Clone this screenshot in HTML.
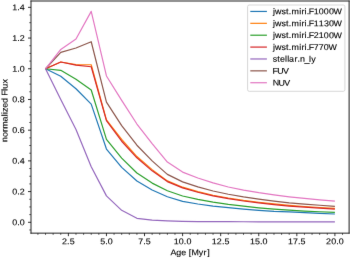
<!DOCTYPE html>
<html><head><meta charset="utf-8"><style>
html,body{margin:0;padding:0;background:#fff;width:350px;height:258px;overflow:hidden}
svg{display:block}
text{font-family:"Liberation Sans", sans-serif}
</style></head><body>
<svg width="350" height="258" viewBox="0 0 350 258" font-family="Liberation Sans, sans-serif"><defs><filter id="b" x="0" y="0" width="100%" height="100%" filterUnits="userSpaceOnUse" color-interpolation-filters="sRGB"><feConvolveMatrix order="3" kernelMatrix="0.0036 0.0528 0.0036 0.0528 0.7744 0.0528 0.0036 0.0528 0.0036" divisor="1" edgeMode="duplicate"/></filter></defs><g filter="url(#b)"><polyline points="45.53,68.76 60.76,76.28 75.99,88.72 91.22,104.07 106.45,149.06 121.68,167.33 136.91,181.03 152.14,189.93 167.37,196.80 182.60,201.40 197.83,204.01 213.06,206.04 228.29,207.71 243.52,209.13 258.75,210.31 273.98,211.34 289.21,211.97 304.44,212.72 319.67,213.39 334.90,213.99" fill="none" stroke="#1f77b4" stroke-width="1.2" stroke-linejoin="round" stroke-linecap="butt"/>
<polyline points="45.53,68.76 60.76,62.00 75.99,64.61 91.22,64.77 106.45,119.89 121.68,139.39 136.91,156.58 152.14,169.64 167.37,180.92 182.60,187.20 197.83,191.56 213.06,195.22 228.29,197.98 243.52,200.30 258.75,202.25 273.98,203.94 289.21,205.38 304.44,206.49 319.67,207.50 334.90,208.36" fill="none" stroke="#ff7f0e" stroke-width="1.2" stroke-linejoin="round" stroke-linecap="butt"/>
<polyline points="45.53,68.76 60.76,70.30 75.99,79.35 91.22,89.95 106.45,139.39 121.68,158.12 136.91,173.01 152.14,183.09 167.37,190.72 182.60,196.03 197.83,199.44 213.06,202.19 228.29,204.40 243.52,206.22 258.75,207.78 273.98,209.08 289.21,210.22 304.44,211.05 319.67,211.77 334.90,212.41" fill="none" stroke="#2ca02c" stroke-width="1.2" stroke-linejoin="round" stroke-linecap="butt"/>
<polyline points="45.53,68.76 60.76,62.00 75.99,65.08 91.22,66.76 106.45,120.66 121.68,141.23 136.91,157.81 152.14,170.86 167.37,181.61 182.60,187.89 197.83,192.25 213.06,195.91 228.29,198.67 243.52,200.99 258.75,202.94 273.98,204.63 289.21,206.07 304.44,207.18 319.67,208.19 334.90,209.05" fill="none" stroke="#d62728" stroke-width="1.2" stroke-linejoin="round" stroke-linecap="butt"/>
<polyline points="45.53,68.76 60.76,99.47 75.99,129.41 91.22,166.72 106.45,195.89 121.68,210.32 136.91,218.31 152.14,220.15 167.37,220.92 182.60,221.38 197.83,221.53 213.06,221.61 228.29,221.69 243.52,221.76 258.75,221.84 273.98,221.84 289.21,221.84 304.44,221.84 319.67,221.84 334.90,221.84" fill="none" stroke="#9467bd" stroke-width="1.2" stroke-linejoin="round" stroke-linecap="butt"/>
<polyline points="45.53,68.76 60.76,52.33 75.99,48.03 91.22,41.74 106.45,102.08 121.68,125.57 136.91,145.22 152.14,160.88 167.37,174.40 182.60,181.86 197.83,186.82 213.06,190.98 228.29,194.26 243.52,196.94 258.75,199.19 273.98,201.13 289.21,202.82 304.44,204.12 319.67,205.27 334.90,206.32" fill="none" stroke="#8c564b" stroke-width="1.2" stroke-linejoin="round" stroke-linecap="butt"/>
<polyline points="45.53,68.76 60.76,49.41 75.99,38.97 91.22,11.34 106.45,75.98 121.68,100.39 136.91,124.03 152.14,143.53 167.37,162.11 182.60,172.09 197.83,178.00 213.06,182.89 228.29,186.99 243.52,190.18 258.75,192.71 273.98,194.86 289.21,196.80 304.44,198.44 319.67,199.87 334.90,201.17" fill="none" stroke="#e377c2" stroke-width="1.2" stroke-linejoin="round" stroke-linecap="butt"/>
<path d="M31.0 233.65V0.50M349.1 233.65V0.50M30.50 1.0H349.60M30.50 233.15H349.60" fill="none" stroke="#222" stroke-width="1.0"/>
<path d="M31.0 222.30h-3.0 M31.0 191.59h-3.0 M31.0 160.88h-3.0 M31.0 130.18h-3.0 M31.0 99.47h-3.0 M31.0 68.76h-3.0 M31.0 38.05h-3.0 M31.0 7.34h-3.0 M68.38 233.15v3.0 M106.45 233.15v3.0 M144.53 233.15v3.0 M182.60 233.15v3.0 M220.68 233.15v3.0 M258.75 233.15v3.0 M296.83 233.15v3.0 M334.90 233.15v3.0" stroke="#000" stroke-width="0.8" fill="none"/>
<path d="M31.0 229.98h-1.8 M31.0 214.62h-1.8 M31.0 206.95h-1.8 M31.0 199.27h-1.8 M31.0 183.92h-1.8 M31.0 176.24h-1.8 M31.0 168.56h-1.8 M31.0 153.21h-1.8 M31.0 145.53h-1.8 M31.0 137.85h-1.8 M31.0 122.50h-1.8 M31.0 114.82h-1.8 M31.0 107.15h-1.8 M31.0 91.79h-1.8 M31.0 84.11h-1.8 M31.0 76.44h-1.8 M31.0 61.08h-1.8 M31.0 53.41h-1.8 M31.0 45.73h-1.8 M31.0 30.38h-1.8 M31.0 22.70h-1.8 M31.0 15.02h-1.8 M37.91 233.15v1.8 M45.53 233.15v1.8 M53.14 233.15v1.8 M60.76 233.15v1.8 M75.99 233.15v1.8 M83.61 233.15v1.8 M91.22 233.15v1.8 M98.83 233.15v1.8 M114.06 233.15v1.8 M121.68 233.15v1.8 M129.30 233.15v1.8 M136.91 233.15v1.8 M152.14 233.15v1.8 M159.76 233.15v1.8 M167.37 233.15v1.8 M174.99 233.15v1.8 M190.22 233.15v1.8 M197.83 233.15v1.8 M205.45 233.15v1.8 M213.06 233.15v1.8 M228.29 233.15v1.8 M235.91 233.15v1.8 M243.52 233.15v1.8 M251.14 233.15v1.8 M266.37 233.15v1.8 M273.98 233.15v1.8 M281.60 233.15v1.8 M289.21 233.15v1.8 M304.44 233.15v1.8 M312.06 233.15v1.8 M319.67 233.15v1.8 M327.29 233.15v1.8 M342.52 233.15v1.8" stroke="#000" stroke-width="0.6" fill="none"/>
<g font-size="8.4" fill="#000" stroke="#000" stroke-width="0.12">
<text transform="matrix(1.06 0.001 0 1 0 -0.0155)" x="11.58 16.31 18.71" y="225.20">0.0</text>
<text transform="matrix(1.06 0.001 0 1 0 -0.0155)" x="11.58 16.31 18.61" y="194.49">0.2</text>
<text transform="matrix(1.06 0.001 0 1 0 -0.0155)" x="11.58 16.31 18.71" y="163.78">0.4</text>
<text transform="matrix(1.06 0.001 0 1 0 -0.0155)" x="11.58 16.31 18.71" y="133.08">0.6</text>
<text transform="matrix(1.06 0.001 0 1 0 -0.0155)" x="11.58 16.31 18.71" y="102.37">0.8</text>
<text transform="matrix(1.06 0.001 0 1 0 -0.0155)" x="11.54 16.31 18.71" y="71.66">1.0</text>
<text transform="matrix(1.06 0.001 0 1 0 -0.0155)" x="11.54 16.31 18.61" y="40.95">1.2</text>
<text transform="matrix(1.06 0.001 0 1 0 -0.0155)" x="11.54 16.31 18.71" y="10.24">1.4</text>
<text transform="matrix(1.06 0.001 0 1 0 -0.0625)" x="58.51 63.33 65.70" y="244.30">2.5</text>
<text transform="matrix(1.06 0.001 0 1 0 -0.0985)" x="94.50 99.25 101.65" y="244.30">5.0</text>
<text transform="matrix(1.06 0.001 0 1 0 -0.1344)" x="130.43 135.17 137.54" y="244.30">7.5</text>
<text transform="matrix(1.06 0.001 0 1 0 -0.1705)" x="163.94 168.74 173.47 175.87" y="244.30">10.0</text>
<text transform="matrix(1.06 0.001 0 1 0 -0.2064)" x="199.86 204.56 209.39 211.76" y="244.30">12.5</text>
<text transform="matrix(1.06 0.001 0 1 0 -0.2423)" x="235.78 240.55 245.31 247.71" y="244.30">15.0</text>
<text transform="matrix(1.06 0.001 0 1 0 -0.2783)" x="271.70 276.48 281.23 283.60" y="244.30">17.5</text>
<text transform="matrix(1.06 0.001 0 1 0 -0.3142)" x="307.57 312.42 317.15 319.54" y="244.30">20.0</text>
<text transform="matrix(1.06 0.001 0 1 0 -0.1786)" x="160.91 166.26 170.98 175.62 177.96 180.62 187.44 192.02 195.42" y="255.20">Age [Myr]</text>
<g transform="translate(7.4 110.5) rotate(-90)"><text transform="matrix(1.06 0.001 0 1 0 0.0009)" x="-29.72 -25.08 -20.20 -17.23 -10.46 -5.44 -3.36 -1.49 2.51 7.12 11.89 13.80 18.64 20.63 25.44" y="0.00">normalized Flux</text></g>
</g>
<rect x="247.6" y="5.0" width="97.30" height="86.30" rx="1.58" ry="1.58" fill="#fff" fill-opacity="0.8" stroke="#cccccc" stroke-width="0.79"/>
<line x1="250.3" y1="11.45" x2="266.9" y2="11.45" stroke="#1f77b4" stroke-width="1.2"/>
<line x1="250.3" y1="23.33" x2="266.9" y2="23.33" stroke="#ff7f0e" stroke-width="1.2"/>
<line x1="250.3" y1="35.21" x2="266.9" y2="35.21" stroke="#2ca02c" stroke-width="1.2"/>
<line x1="250.3" y1="47.09" x2="266.9" y2="47.09" stroke="#d62728" stroke-width="1.2"/>
<line x1="250.3" y1="58.97" x2="266.9" y2="58.97" stroke="#9467bd" stroke-width="1.2"/>
<line x1="250.3" y1="70.85" x2="266.9" y2="70.85" stroke="#8c564b" stroke-width="1.2"/>
<line x1="250.3" y1="82.73" x2="266.9" y2="82.73" stroke="#e377c2" stroke-width="1.2"/>
<g font-size="8.4" fill="#000" stroke="#000" stroke-width="0.12">
<text transform="matrix(1.06 0.001 0 1 0 -0.2851)" x="257.53 259.54 265.54 269.80 272.47 274.99 282.21 284.45 287.36 289.34 291.26 295.99 300.79 305.54 310.29 314.73" y="14.35">jwst.miri.F1000W</text>
<text transform="matrix(1.06 0.001 0 1 0 -0.2851)" x="257.53 259.54 265.54 269.80 272.47 274.99 282.21 284.45 287.36 289.34 291.26 295.99 300.74 305.55 310.29 314.73" y="26.23">jwst.miri.F1130W</text>
<text transform="matrix(1.06 0.001 0 1 0 -0.2851)" x="257.53 259.54 265.54 269.80 272.47 274.99 282.21 284.45 287.36 289.34 291.26 295.94 300.74 305.54 310.29 314.73" y="38.11">jwst.miri.F2100W</text>
<text transform="matrix(1.06 0.001 0 1 0 -0.2831)" x="257.53 259.54 265.54 269.80 272.47 274.99 282.21 284.45 287.36 289.34 291.26 296.02 300.77 305.54 309.98" y="49.99">jwst.miri.F770W</text>
<text transform="matrix(1.06 0.001 0 1 0 -0.2758)" x="257.35 261.62 264.25 268.97 271.05 272.68 277.86 280.68 283.09 287.32 291.61 293.69" y="61.87">stellar.n_ly</text>
<text transform="matrix(1.06 0.001 0 1 0 -0.2618)" x="257.01 261.45 266.97" y="73.75">FUV</text>
<text transform="matrix(1.06 0.001 0 1 0 -0.2627)" x="257.21 262.74 268.26" y="85.63">NUV</text>
</g></g></svg>
</body></html>
